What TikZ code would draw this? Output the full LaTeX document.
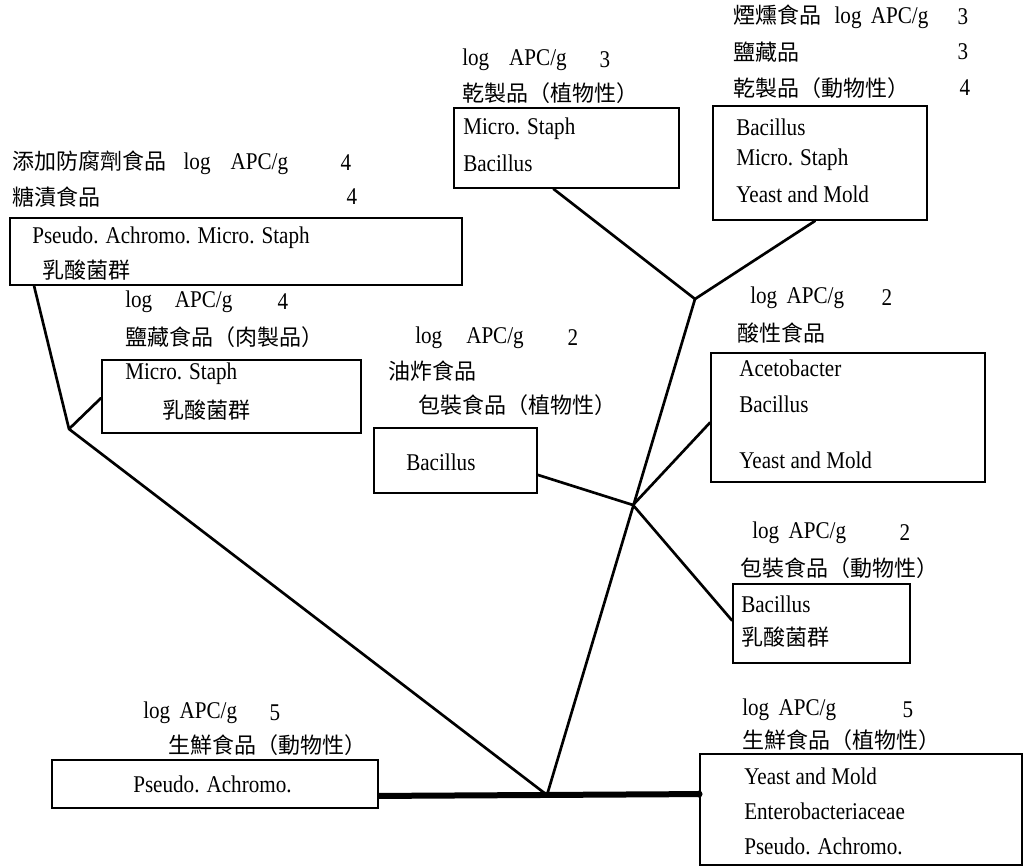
\documentclass[tikz,border=0pt]{standalone}
\usepackage{fontspec}
\setmainfont{Liberation Serif}[FakeStretch=0.88]
\newfontfamily\cjk{Noto Sans CJK TC}
\newcommand\zh[1]{{\cjk\fontsize{16.5}{18}\selectfont #1}}
\usetikzlibrary{calc}
\tikzset{
 box/.style={draw, line width=1.4pt, inner sep=0pt, rectangle},
 txt/.style={anchor=west, inner sep=0pt, font=\fontsize{18}{20}\selectfont},
 num/.style={anchor=center, inner sep=0pt, font=\fontsize{18}{20}\selectfont},
 link/.style={line width=2pt, line cap=round, line join=round},
 trunk/.style={line width=4.5pt, line cap=butt},
}
\begin{document}
\begin{tikzpicture}[x=0.75pt,y=-0.75pt]
\useasboundingbox (0,0) rectangle (1026,868);

% boxes
\node[box, minimum width=339pt,   minimum height=50.25pt] (b1) at (236,251.5) {};
\node[box, minimum width=194.25pt,minimum height=54.75pt] (b2) at (231.5,396.5) {};
\node[box, minimum width=168.75pt,minimum height=60pt]    (b3) at (566.5,148) {};
\node[box, minimum width=160.5pt, minimum height=85.5pt]  (b4) at (820,163) {};
\node[box, minimum width=122.25pt,minimum height=48.75pt] (b5) at (455.5,460.5) {};
\node[box, minimum width=205.5pt, minimum height=96.75pt] (b6) at (848,417.5) {};
\node[box, minimum width=132.75pt,minimum height=59.25pt] (b7) at (821.5,623.5) {};
\node[box, minimum width=244.5pt, minimum height=36pt]    (b8) at (215,784) {};
\node[box, minimum width=241.5pt, minimum height=83.25pt] (b9) at (861,809.5) {};

% block A
\node[txt] (a1) at (12,163) {\zh{添加防腐劑食品}\hspace{13pt}log\hspace{15pt}APC/g};
\node[num] (a1n) at (346,163) {4};
\node[txt] (a2) at (12,197) {\zh{糖漬食品}};
\node[num] (a2n) at (352,197) {4};
\node[txt] (a3) at (32,238) {Pseudo. Achromo. Micro. Staph};
\node[txt] (a4) at (42,270) {\zh{乳酸菌群}};

% block B
\node[txt] (bb1) at (125,302) {log\hspace{17pt}APC/g};
\node[num] (bb1n) at (283,302) {4};
\node[txt] (bb2) at (125,337) {\zh{鹽藏食品（肉製品）}};
\node[txt] (bb3) at (125,374) {Micro. Staph};
\node[txt] (bb4) at (162,410) {\zh{乳酸菌群}};

% block C
\node[txt] (c1) at (462,60) {log\hspace{15pt}APC/g};
\node[num] (c1n) at (605,60) {3};
\node[txt] (c2) at (462,93) {\zh{乾製品（植物性）}};
\node[txt] (c3) at (463,129) {Micro. Staph};
\node[txt] (c4) at (463,163) {Bacillus};

% block D
\node[txt] (d1) at (733,17) {\zh{煙燻食品}\hspace{10pt}log\hspace{7pt}APC/g};
\node[num] (d1n) at (963,17) {3};
\node[txt] (d2) at (733,52) {\zh{鹽藏品}};
\node[num] (d2n) at (963,52) {3};
\node[txt] (d3) at (733,88) {\zh{乾製品（動物性）}};
\node[num] (d3n) at (965,88) {4};
\node[txt] (d4) at (736,127) {Bacillus};
\node[txt] (d5) at (736,160) {Micro. Staph};
\node[txt] (d6) at (736,194) {Yeast and Mold};

% block E
\node[txt] (e1) at (415,338) {log\hspace{18pt}APC/g};
\node[num] (e1n) at (573,338) {2};
\node[txt] (e2) at (388,371) {\zh{油炸食品}};
\node[txt] (e3) at (418,405) {\zh{包裝食品（植物性）}};
\node[txt] (e4) at (406,462) {Bacillus};

% block F
\node[txt] (f1) at (750,298) {log\hspace{7pt}APC/g};
\node[num] (f1n) at (887,298) {2};
\node[txt] (f2) at (737,333) {\zh{酸性食品}};
\node[txt] (f3) at (739,368) {Acetobacter};
\node[txt] (f4) at (739,404) {Bacillus};
\node[txt] (f5) at (739,460) {Yeast and Mold};

% block G
\node[txt] (g1) at (752,533) {log\hspace{7pt}APC/g};
\node[num] (g1n) at (905,533) {2};
\node[txt] (g2) at (740,568) {\zh{包裝食品（動物性）}};
\node[txt] (g3) at (741,604) {Bacillus};
\node[txt] (g4) at (741,637) {\zh{乳酸菌群}};

% block H
\node[txt] (h1) at (143,713) {log\hspace{7pt}APC/g};
\node[num] (h1n) at (275,713) {5};
\node[txt] (h2) at (168,745) {\zh{生鮮食品（動物性）}};
\node[txt] (h3) at (133,784) {Pseudo. Achromo.};

% block I
\node[txt] (i1) at (742,710) {log\hspace{7pt}APC/g};
\node[num] (i1n) at (908,710) {5};
\node[txt] (i2) at (742,740) {\zh{生鮮食品（植物性）}};
\node[txt] (i3) at (744,776) {Yeast and Mold};
\node[txt] (i4) at (744,811) {Enterobacteriaceae};
\node[txt] (i5) at (744,846) {Pseudo. Achromo.};

% junctions
\coordinate (R)  at (547,795);
\coordinate (JL) at (69,429);
\coordinate (JT) at (695,299);
\coordinate (JM) at (633,505);

% connectors
\draw[trunk] ($(b8.south east)+(0,-13)$) -- ($(b9.north west)+(0,41)$);
\fill ($(b9.north west)+(0,41)$) circle (2.6pt);
\draw[link] (R) -- (JL);
\draw[link] (JL) -- ($(b1.south west)+(25,0)$);
\draw[link] (JL) -- ($(b2.west)+(0,1.5)$);
\draw[link] (R) -- (JT);
\draw[link] (JT) -- ($(b3.south)+(-13,0)$);
\draw[link] (JT) -- ($(b4.south)+(-5,0)$);
\draw[link] (JM) -- ($(b5.south east)+(0,-19)$);
\draw[link] (JM) -- ($(b6.west)+(0,5)$);
\draw[link] (JM) -- ($(b7.west)+(0,-3)$);
\end{tikzpicture}
\end{document}
